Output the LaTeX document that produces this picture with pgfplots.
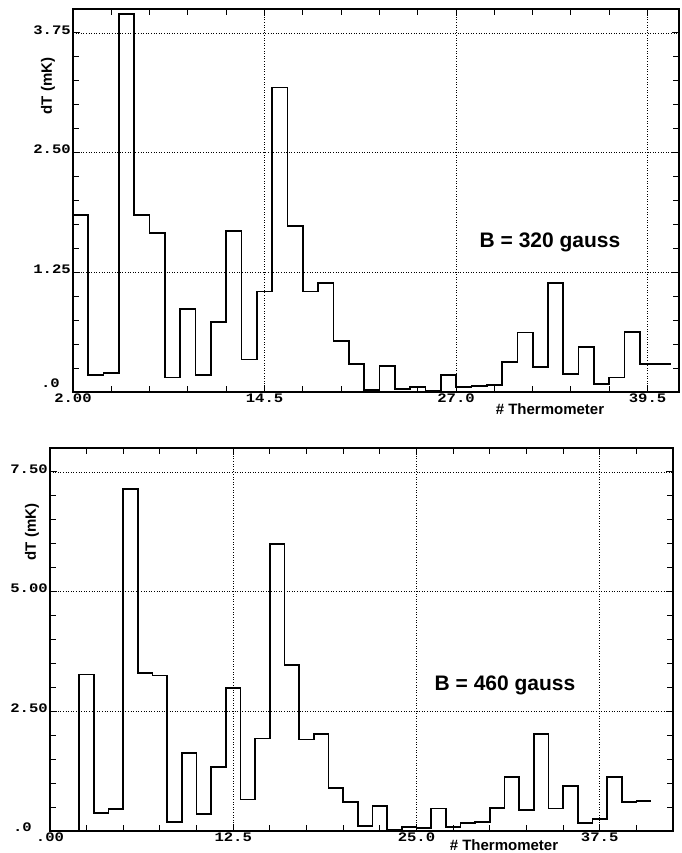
\documentclass[border=0pt]{standalone}
\usepackage{fontspec}
\setmainfont{Liberation Sans}
\setmonofont{Liberation Mono}
\usepackage{graphicx}
\usepackage{pgfplots}
\pgfplotsset{compat=1.18}
\newcommand{\tl}[1]{\scalebox{1.2}[1]{\fontsize{13}{13}\selectfont\ttfamily\bfseries #1}}
\pgfplotsset{myax/.style={
  scale only axis,
  axis line style={line width=1.4pt},
  tick align=inside,
  major tick length=7pt, minor tick length=6pt,
  every tick/.style={black, line width=1pt},
  grid=major,
  major grid style={black, line width=0.7pt, dash pattern=on 0.8pt off 1.8pt},
  xticklabel style={inner sep=0pt, yshift=-2pt},
  yticklabel style={inner sep=0pt, xshift=-2pt, yshift=3pt},
  ymin=0,
  clip=false,
}}
\pgfplotstableread{
x y
2 0
2 1.85
3 0.18
4 0.20
5 3.95
6 1.85
7 1.66
8 0.15
9 0.87
10 0.18
11 0.73
12 1.68
13 0.34
14 1.05
15 3.18
16 1.73
17 1.05
18 1.14
19 0.53
20 0.29
21 0.02
22 0.27
23 0.03
24 0.05
25 0.01
26 0.18
27 0.05
28 0.06
29 0.07
30 0.31
31 0.62
32 0.26
33 1.14
34 0.19
35 0.47
36 0.08
37 0.15
38 0.63
39 0.29
40 0.29
41 0.29
}\topdata
\pgfplotstableread{
x y
2 0
2 3.27
3 0.37
4 0.46
5 7.14
6 3.30
7 3.25
8 0.19
9 1.63
10 0.35
11 1.34
12 2.99
13 0.66
14 1.93
15 5.99
16 3.47
17 1.91
18 2.03
19 0.90
20 0.61
21 0.10
22 0.52
23 0.03
24 0.09
25 0.06
26 0.47
27 0.08
28 0.16
29 0.19
30 0.48
31 1.13
32 0.44
33 2.02
34 0.47
35 0.94
36 0.17
37 0.25
38 1.13
39 0.61
40 0.63
41 0.63
}\botdata
\begin{document}
\begin{tikzpicture}[x=1pt,y=1pt]
\useasboundingbox (0,0) rectangle (681,853);
\begin{axis}[myax, at={(73pt,461pt)}, anchor=south west,
  width=606pt, height=383pt,
  xmin=2, xmax=41.55, ymax=4,
  xtick={2,14.5,27,39.5},
  xticklabels={\tl{2.00},\tl{14.5},\tl{27.0},\tl{39.5}},
  minor xtick={4.5,7,...,42},
  ytick={1.25,2.5,3.75},
  yticklabels={\tl{1.25},\tl{2.50},\tl{3.75}},
  extra y ticks={0},
  extra y tick labels={\tl{.0}},
  extra y tick style={grid=none, yticklabel style={xshift=-11pt, yshift=6pt}},
  minor ytick={0.25,0.5,...,4},
]
\addplot[const plot, black, line width=1.7pt] table[x=x,y=y] {\topdata};
\end{axis}
\node[rotate=90, font=\bfseries\fontsize{15}{15}\selectfont] at (48,767) {dT (mK)};
\node[font=\bfseries\fontsize{15}{15}\selectfont] at (550,444) {\# Thermometer};
\node[font=\bfseries\fontsize{21}{21}\selectfont] at (550,611) {B = 320 gauss};
\begin{axis}[myax, at={(50pt,22pt)}, anchor=south west,
  width=623pt, height=383pt,
  xmin=0, xmax=42.5, ymax=8,
  xtick={0,12.5,25,37.5},
  xticklabels={\tl{.00},\tl{12.5},\tl{25.0},\tl{37.5}},
  minor xtick={2.5,5,...,42.5},
  ytick={2.5,5,7.5},
  yticklabels={\tl{2.50},\tl{5.00},\tl{7.50}},
  extra y ticks={0},
  extra y tick labels={\tl{.0}},
  extra y tick style={grid=none, yticklabel style={xshift=-16pt, yshift=1pt}},
  minor ytick={0.5,1,...,8},
]
\addplot[const plot, black, line width=1.7pt] table[x=x,y=y] {\botdata};
\end{axis}
\node[rotate=90, font=\bfseries\fontsize{15}{15}\selectfont] at (32,321) {dT (mK)};
\node[font=\bfseries\fontsize{15}{15}\selectfont] at (504,8) {\# Thermometer};
\node[font=\bfseries\fontsize{21}{21}\selectfont] at (505,168) {B = 460 gauss};
\end{tikzpicture}
\end{document}
